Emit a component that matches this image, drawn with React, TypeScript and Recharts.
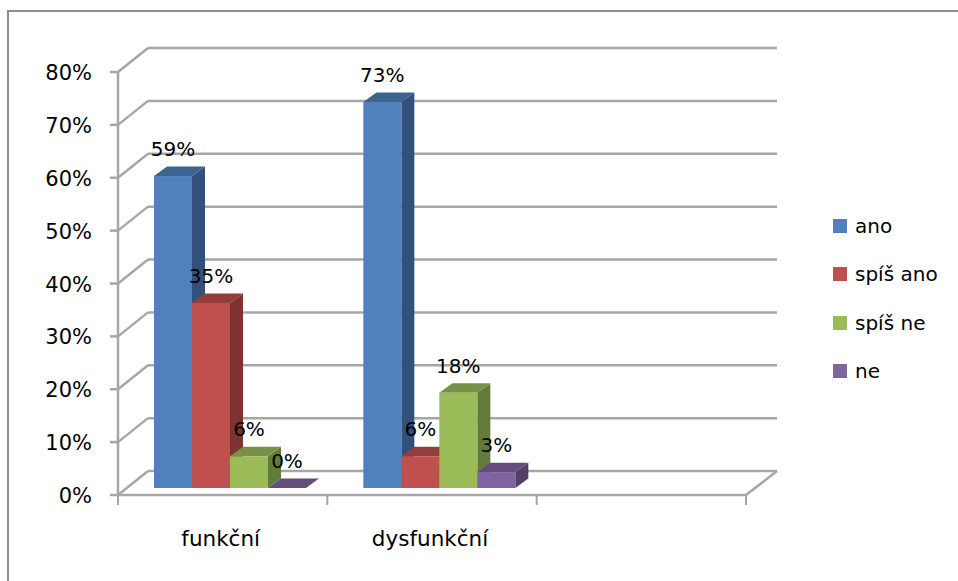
import { Bar, BarChart, CartesianGrid, LabelList, Legend, XAxis, YAxis } from "recharts"

const categories = ["funkční", "dysfunkční", ""]
const ano = [59, 73, null]
const spisAno = [35, 6, null]
const spisNe = [6, 18, null]
const ne = [0, 3, null]
const yTicks = [0, 10, 20, 30, 40, 50, 60, 70, 80]

const data = categories.map((category, i) => ({
  category,
  ano: ano[i],
  spisAno: spisAno[i],
  spisNe: spisNe[i],
  ne: ne[i],
}))

const WIDTH = 958
const HEIGHT = 581
const PLOT_LEFT = 126
const PLOT_RIGHT = 754
const PLOT_TOP = 65
const PLOT_BOTTOM = 488
const FONT = "'DejaVu Sans', sans-serif"
const GRID = "#a6a6a6"

// the bars stand on a plane between the front edge of the floor and the back wall
const FRONT = { dx: -8, dy: 7 }
const BACK = { dx: 22, dy: -17 }
const BAR_DEPTH = { dx: 13, dy: -9.5 }
const BAND = (PLOT_RIGHT - PLOT_LEFT) / categories.length

const series = [
  { key: "ano", name: "ano", fill: "#4f81bd", top: "#3d6491", side: "#32507a" },
  { key: "spisAno", name: "spíš ano", fill: "#c0504d", top: "#943e3b", side: "#7c3331" },
  { key: "spisNe", name: "spíš ne", fill: "#9bbb59", top: "#789145", side: "#647a3a" },
  { key: "ne", name: "ne", fill: "#8064a2", top: "#634d7d", side: "#524069" },
]

function Bar3D(props: any) {
  const { x, y, width, height, fill, top, side } = props
  const { dx, dy } = BAR_DEPTH
  const right = x + width
  const bottom = y + height
  return (
    <g>
      <polygon points={`${right},${y} ${right + dx},${y + dy} ${right + dx},${bottom + dy} ${right},${bottom}`} fill={side} />
      <polygon points={`${x},${y} ${x + dx},${y + dy} ${right + dx},${y + dy} ${right},${y}`} fill={top} />
      <rect x={x} y={y} width={width} height={height} fill={fill} />
    </g>
  )
}

function WallLine(props: any) {
  const { x1, x2, y1 } = props
  const frontX = x1 + FRONT.dx
  const frontY = y1 + FRONT.dy
  const backX = x1 + BACK.dx
  const backY = y1 + BACK.dy
  const isFloor = Math.abs(y1 - PLOT_BOTTOM) < 1
  return (
    <g stroke={GRID} strokeWidth={2.5} fill="none">
      <line x1={backX} y1={backY} x2={x2 + BACK.dx + 1} y2={backY} />
      <line x1={frontX} y1={frontY} x2={backX} y2={backY} />
      {isFloor && <line x1={x2 + FRONT.dx} y1={frontY} x2={x2 + BACK.dx + 1} y2={backY} />}
    </g>
  )
}

function YTick(props: any) {
  const { y, payload } = props
  const front = y + FRONT.dy
  return (
    <g>
      <line x1={110} y1={front} x2={PLOT_LEFT + FRONT.dx} y2={front} stroke={GRID} strokeWidth={2.5} />
      <text x={92} y={front + 8} textAnchor="end" fontFamily={FONT} fontSize={21} fill="#000">
        {`${payload.value}%`}
      </text>
    </g>
  )
}

function XTick(props: any) {
  const { x, y, payload, index } = props
  const top = PLOT_BOTTOM + FRONT.dy
  const left = x - BAND / 2 + FRONT.dx
  return (
    <g>
      <line x1={left} y1={top} x2={left} y2={top + 10} stroke={GRID} strokeWidth={2} />
      {index === categories.length - 1 && (
        <line x1={left + BAND} y1={top} x2={left + BAND} y2={top + 10} stroke={GRID} strokeWidth={2} />
      )}
      <text x={x + FRONT.dx - 2} y={y + 50} textAnchor="middle" fontFamily={FONT} fontSize={21.5} fill="#000">
        {payload.value}
      </text>
    </g>
  )
}

function ValueLabel(props: any) {
  const { x, y, width, value } = props
  if (value === null || value === undefined) return null
  return (
    <text x={x + width / 2} y={y - 20} textAnchor="middle" fontFamily={FONT} fontSize={20} fill="#000">
      {`${value}%`}
    </text>
  )
}

function LegendList(props: any) {
  return (
    <div style={{ fontFamily: FONT, fontSize: 20, color: "#000" }}>
      {props.payload.map((item: any) => (
        <div key={item.value} style={{ display: "flex", alignItems: "center", height: 48.3 }}>
          <span style={{ width: 14, height: 14, background: item.color, marginRight: 8 }} />
          {item.value}
        </div>
      ))}
    </div>
  )
}

export default function App() {
  return (
    <div
      style={{
        position: "absolute",
        left: 0,
        top: 0,
        width: WIDTH,
        height: HEIGHT,
        background: "#fff",
        overflow: "hidden",
      }}
    >
      <div
        style={{
          position: "absolute",
          left: 7,
          top: 10,
          width: WIDTH,
          height: HEIGHT,
          borderLeft: "2px solid #8f8f8f",
          borderTop: "2px solid #8f8f8f",
        }}
      />
      <BarChart
        width={WIDTH}
        height={HEIGHT}
        data={data}
        barGap={0}
        barCategoryGap={28}
        margin={{ top: PLOT_TOP, right: WIDTH - PLOT_RIGHT, bottom: 0, left: 0 }}
      >
        <CartesianGrid vertical={false} horizontal={(p: any) => <WallLine key={p.y1} {...p} />} />
        <XAxis
          dataKey="category"
          interval={0}
          height={HEIGHT - PLOT_BOTTOM}
          tickLine={false}
          axisLine={{ stroke: GRID, strokeWidth: 2.5, transform: `translate(${FRONT.dx},${FRONT.dy})` }}
          tick={<XTick />}
        />
        <YAxis
          domain={[0, 80]}
          ticks={yTicks}
          width={PLOT_LEFT}
          tickLine={false}
          axisLine={{ stroke: GRID, strokeWidth: 2.5, transform: `translate(${FRONT.dx},${FRONT.dy})` }}
          tick={<YTick />}
        />
        <Legend
          layout="vertical"
          align="center"
          verticalAlign="middle"
          itemSorter={null}
          content={<LegendList />}
          wrapperStyle={{ left: 833, top: 202, width: 125 }}
        />
        {series.map((s) => (
          <Bar
            key={s.key}
            dataKey={s.key}
            name={s.name}
            fill={s.fill}
            isAnimationActive={false}
            shape={<Bar3D top={s.top} side={s.side} />}
          >
            <LabelList dataKey={s.key} content={<ValueLabel />} />
          </Bar>
        ))}
      </BarChart>
    </div>
  )
}
